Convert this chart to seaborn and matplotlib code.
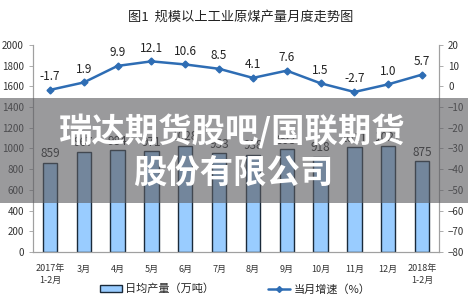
import numpy as np
import pandas as pd
import matplotlib
matplotlib.use("Agg")
import matplotlib.pyplot as plt
from matplotlib.patches import Rectangle, Patch
from matplotlib.lines import Line2D
import seaborn as sns

# veriler
months = ["2017年\n1-2月", "3月", "4月", "5月", "6月", "7月", "8月", "9月",
          "10月", "11月", "12月", "2018年\n1-2月"]
output = [859, 967, 984, 971, 1028, 953, 938, 993, 918, 1011, 1022, 875]
growth = [-1.7, 1.9, 9.9, 12.1, 10.6, 8.5, 4.1, 7.6, 1.5, -2.7, 1.0, 5.7]
left_ticks = list(range(0, 2001, 200))
right_ticks = list(range(-80, 21, 10))

df = pd.DataFrame({"month": months, "output": output, "growth": growth})

sns.set_style("white")
plt.rcParams["font.family"] = ["Noto Sans CJK SC", "DejaVu Sans"]

fig = plt.figure(figsize=(4.68, 3.02), dpi=100)
ax = fig.add_axes([0.0705, 0.1656, 0.8675, 0.6854])

bar_c = "#99CCFF"
line_c = "#2E6DB4"
sns.barplot(data=df, x="month", y="output", order=months, color=bar_c,
            edgecolor="#1A2A3A", linewidth=1.0, width=0.42, saturation=1, ax=ax)
for i, v in enumerate(output):
    ax.text(i, v + 25, str(v), ha="center", va="bottom", fontsize=8.5, color="#222222")

ax.set_ylim(0, 2000)
ax.set_yticks(left_ticks)
ax.set_xlim(-0.5, 11.5)
ax.set_xlabel("")
ax.set_ylabel("")

ax2 = ax.twinx()
ax2.plot(np.arange(len(months)), growth, color=line_c, lw=1.8, marker="D", ms=3.5)
for i, v in enumerate(growth):
    ax2.text(i, v + 3.2, f"{v:.1f}", ha="center", va="bottom", fontsize=8.5, color="#222222")
ax2.set_ylim(-80, 20)
ax2.set_yticks(right_ticks)
ax2.set_xlim(-0.5, 11.5)

for a in (ax, ax2):
    for s in a.spines.values():
        s.set_color("#A0A0A0")
        s.set_linewidth(0.8)
    a.spines["top"].set_visible(False)
    a.tick_params(labelsize=7, colors="#333333", length=3, width=0.6)
ax.tick_params(axis="y", left=True, direction="out", color="#A0A0A0")
ax2.tick_params(axis="y", right=True, direction="out", color="#A0A0A0")
ax.tick_params(axis="x", bottom=False, pad=6)
ax.set_xticks(range(len(months)))
ax.set_xticklabels(months, fontsize=6.5, color="#333333", linespacing=1.4)
ax2.set_ylabel("")

fig.text(0.515, 0.944, "图1  规模以上工业原煤产量月度走势图", ha="center", va="center",
         fontsize=9.5, color="#222222")

handles = [Patch(facecolor=bar_c, edgecolor="#1A2A3A", linewidth=1.0),
           Line2D([0], [0], color=line_c, lw=1.8, marker="D", ms=3)]
fig.legend(handles, ["日均产量（万吨）", "当月增速（%）"], loc="center",
           bbox_to_anchor=(0.502, 0.043), ncol=2, frameon=False, fontsize=8,
           handlelength=2.0, handleheight=0.6, columnspacing=4.8, handletextpad=0.3)

# watermark
fig.patches.append(Rectangle((0, 0.328), 1, 0.347, transform=fig.transFigure,
                             facecolor="#5C5C60", alpha=0.62, edgecolor="none", zorder=5))
fig.text(0.496, 0.564, "瑞达期货股吧/国联期货", ha="center", va="center", fontsize=24,
         fontweight="heavy", color="white", zorder=6)
fig.text(0.498, 0.427, "股份有限公司", ha="center", va="center", fontsize=24,
         fontweight="heavy", color="white", zorder=6)

fig.savefig("out.png", dpi=100)
